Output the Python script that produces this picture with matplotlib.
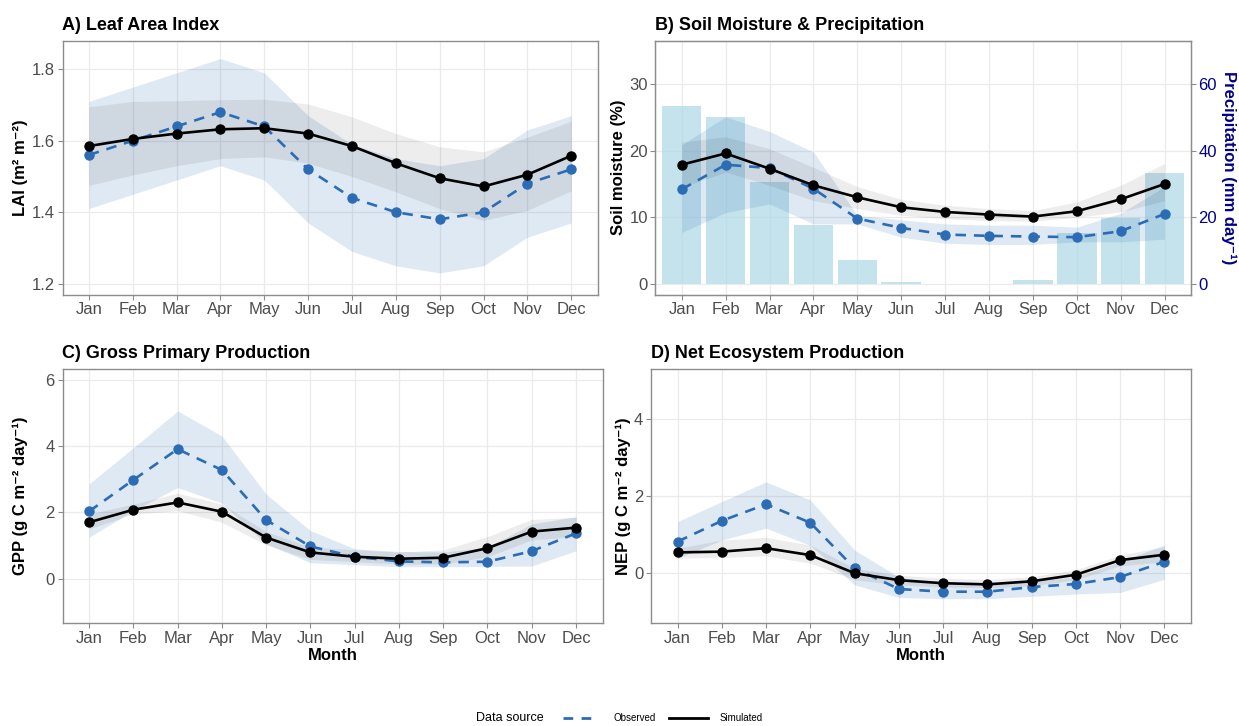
import matplotlib.pyplot as plt
from matplotlib.lines import Line2D
from matplotlib.transforms import blended_transform_factory

plt.rcParams['font.family'] = ['Liberation Sans', 'DejaVu Sans']

months = ['Jan', 'Feb', 'Mar', 'Apr', 'May', 'Jun', 'Jul', 'Aug', 'Sep', 'Oct', 'Nov', 'Dec']
x = list(range(1, 13))

# A) leaf area index
lai_obs = [1.56, 1.60, 1.64, 1.68, 1.64, 1.52, 1.44, 1.40, 1.38, 1.40, 1.48, 1.52]
lai_obs_lo = [1.41, 1.45, 1.49, 1.53, 1.49, 1.37, 1.29, 1.25, 1.23, 1.25, 1.33, 1.37]
lai_obs_hi = [1.71, 1.75, 1.79, 1.83, 1.79, 1.67, 1.59, 1.55, 1.53, 1.55, 1.63, 1.67]
lai_sim = [1.585, 1.605, 1.62, 1.632, 1.635, 1.62, 1.585, 1.537, 1.495, 1.472, 1.505, 1.558]
lai_sim_lo = [1.475, 1.504, 1.53, 1.55, 1.555, 1.537, 1.50, 1.457, 1.41, 1.377, 1.405, 1.46]
lai_sim_hi = [1.695, 1.71, 1.712, 1.715, 1.716, 1.703, 1.667, 1.62, 1.583, 1.569, 1.61, 1.655]

# B) soil moisture (%) and precipitation (mm/day)
sm_obs = [14.2, 17.9, 17.4, 14.3, 9.8, 8.4, 7.4, 7.2, 7.1, 7.0, 7.9, 10.5]
sm_obs_lo = [7.7, 10.7, 12.0, 9.0, 9.0, 7.0, 6.1, 5.9, 5.9, 6.3, 6.3, 6.7]
sm_obs_hi = [20.9, 25.1, 22.9, 19.8, 10.3, 9.6, 9.0, 8.8, 8.8, 8.5, 10.6, 14.6]
sm_sim = [17.9, 19.6, 17.3, 14.8, 13.0, 11.5, 10.8, 10.4, 10.1, 10.9, 12.7, 15.0]
sm_sim_lo = [14.5, 16.8, 14.8, 12.5, 11.3, 10.3, 9.8, 9.5, 9.4, 10.0, 10.8, 12.5]
sm_sim_hi = [21.3, 22.1, 20.3, 17.5, 14.6, 12.7, 11.8, 11.3, 11.0, 12.3, 14.8, 18.1]
precip = [53.4, 50.2, 30.7, 17.8, 7.2, 0.5, 0.0, 0.0, 1.2, 15.4, 19.8, 33.2]

# C) gross primary production
gpp_obs = [2.03, 2.98, 3.91, 3.28, 1.77, 0.97, 0.66, 0.52, 0.49, 0.51, 0.83, 1.37]
gpp_obs_lo = [1.25, 2.05, 2.75, 2.28, 1.05, 0.48, 0.42, 0.36, 0.36, 0.37, 0.38, 0.84]
gpp_obs_hi = [2.86, 3.95, 5.06, 4.31, 2.55, 1.45, 0.90, 0.82, 0.80, 0.95, 1.65, 1.87]
gpp_sim = [1.70, 2.08, 2.30, 2.02, 1.24, 0.79, 0.66, 0.60, 0.63, 0.92, 1.42, 1.54]
gpp_sim_lo = [1.50, 1.95, 2.05, 1.70, 1.02, 0.58, 0.51, 0.44, 0.44, 0.66, 1.17, 1.27]
gpp_sim_hi = [1.95, 2.25, 2.58, 2.25, 1.42, 0.95, 0.87, 0.80, 0.87, 1.27, 1.79, 1.85]

# D) net ecosystem production
nep_obs = [0.82, 1.36, 1.79, 1.31, 0.13, -0.41, -0.48, -0.48, -0.36, -0.28, -0.10, 0.30]
nep_obs_lo = [0.39, 0.86, 1.17, 0.72, -0.30, -0.63, -0.66, -0.66, -0.60, -0.54, -0.50, -0.16]
nep_obs_hi = [1.34, 1.86, 2.37, 1.90, 0.60, -0.10, -0.28, -0.28, -0.20, -0.10, 0.30, 0.73]
nep_sim = [0.54, 0.56, 0.65, 0.47, 0.00, -0.18, -0.26, -0.29, -0.21, -0.04, 0.34, 0.48]
nep_sim_lo = [0.39, 0.41, 0.45, 0.26, -0.17, -0.30, -0.36, -0.38, -0.33, -0.17, 0.19, 0.30]
nep_sim_hi = [0.65, 0.86, 0.93, 0.73, 0.13, -0.05, -0.13, -0.16, -0.09, 0.09, 0.47, 0.69]

OBS_COL = '#2B6CB5'
SIM_COL = 'black'
BORDER = '#8C8C8C'
GRID = '#EBEBEB'
TICK_COL = '#4D4D4D'
PREC_COL = '#00008B'

W, H = 1239, 726
fig = plt.figure(figsize=(W / 100, H / 100), dpi=100)


def px_axes(left, top, right, bottom):
    return fig.add_axes([left / W, 1 - bottom / H, (right - left) / W, (bottom - top) / H])


def place_ylabel(ax, axis, xc):
    # centre the y label on a fixed pixel column so the panels line up
    axis.set_label_coords(xc / W, 0.5, transform=blended_transform_factory(fig.transFigure, ax.transAxes))
    axis.label.set_va('center')
    axis.label.set_ha('center')


def style(ax, ylim, yticks, ylabel, title, label_x, xlabel=None, grid=True):
    ax.set_xlim(0.4, 12.6)
    ax.set_ylim(*ylim)
    ax.set_xticks(x)
    ax.set_xticklabels(months)
    ax.set_yticks(yticks)
    ax.tick_params(colors=BORDER, labelcolor=TICK_COL, labelsize=12, length=3.5, width=0.8, pad=2)
    for s in ax.spines.values():
        s.set_color(BORDER)
        s.set_linewidth(1.0)
    if grid:
        ax.grid(True, color=GRID, lw=0.9)
        ax.set_axisbelow(True)
    ax.set_ylabel(ylabel, fontsize=12, fontweight='bold')
    place_ylabel(ax, ax.yaxis, label_x)
    if xlabel:
        ax.set_xlabel(xlabel, fontsize=12, fontweight='bold')
        ax.xaxis.set_label_coords(0.5, 1 - 655 / H,
                                  transform=blended_transform_factory(ax.transAxes, fig.transFigure))
        ax.xaxis.label.set_va('center')
    ax.set_title(title, loc='left', fontsize=13, fontweight='bold', pad=8)


def draw_series(ax, obs, obs_lo, obs_hi, sim, sim_lo, sim_hi):
    ax.fill_between(x, obs_lo, obs_hi, color=OBS_COL, alpha=0.15, lw=0, zorder=2)
    ax.fill_between(x, sim_lo, sim_hi, color='black', alpha=0.07, lw=0, zorder=2)
    ax.plot(x, obs, color=OBS_COL, lw=1.9, dashes=(4, 3), marker='o', ms=6.5, zorder=3)
    ax.plot(x, sim, color=SIM_COL, lw=1.9, marker='o', ms=6.5, zorder=4)


# A
ax_a = px_axes(62.5, 40.7, 597.6, 294.7)
draw_series(ax_a, lai_obs, lai_obs_lo, lai_obs_hi, lai_sim, lai_sim_lo, lai_sim_hi)
style(ax_a, (1.169, 1.88), [1.2, 1.4, 1.6, 1.8], 'LAI (m² m⁻²)', 'A) Leaf Area Index', 20.5)
ax_a.set_yticklabels(['1.2', '1.4', '1.6', '1.8'])

# B: precipitation bars sit on a twin axis behind the soil moisture axis
ax_b = px_axes(655.4, 40.7, 1190.9, 294.7)
ax_p = ax_b.twinx()
ax_p.set_zorder(0)
ax_b.set_zorder(1)
ax_b.patch.set_visible(False)
ax_p.bar(x, precip, width=0.9, color='lightblue', alpha=0.7, zorder=2)
ax_p.set_ylim(-3.3, 73.1)
ax_p.set_yticks([0, 20, 40, 60])
ax_p.xaxis.set_visible(True)
ax_p.tick_params(axis='x', bottom=False, top=False, labelbottom=False, labeltop=False)
ax_p.grid(True, color=GRID, lw=0.9)
ax_p.set_axisbelow(True)
ax_p.tick_params(axis='y', colors=BORDER, labelcolor=PREC_COL, labelsize=12, length=3.5, width=0.8, pad=2)
for s in ax_p.spines.values():
    s.set_color(BORDER)
ax_p.set_ylabel('Precipitation (mm day⁻¹)', fontsize=12, fontweight='bold', color=PREC_COL, rotation=270)
place_ylabel(ax_p, ax_p.yaxis, 1229)
draw_series(ax_b, sm_obs, sm_obs_lo, sm_obs_hi, sm_sim, sm_sim_lo, sm_sim_hi)
style(ax_b, (-1.65, 36.55), [0, 10, 20, 30], 'Soil moisture (%)', 'B) Soil Moisture & Precipitation',
      618, grid=False)

# C
ax_c = px_axes(62.5, 369, 602.6, 623.3)
draw_series(ax_c, gpp_obs, gpp_obs_lo, gpp_obs_hi, gpp_sim, gpp_sim_lo, gpp_sim_hi)
style(ax_c, (-1.35, 6.33), [0, 2, 4, 6], 'GPP (g C m⁻² day⁻¹)', 'C) Gross Primary Production', 20,
      xlabel='Month')

# D
ax_d = px_axes(651, 369, 1190.9, 623.3)
draw_series(ax_d, nep_obs, nep_obs_lo, nep_obs_hi, nep_sim, nep_sim_lo, nep_sim_hi)
style(ax_d, (-1.30, 5.30), [0, 2, 4], 'NEP (g C m⁻² day⁻¹)', 'D) Net Ecosystem Production', 623,
      xlabel='Month')

# legend along the bottom
ly = 1 - 718 / H
fig.text(476 / W, ly, 'Data source', fontsize=9, va='center', ha='left')
fig.add_artist(Line2D([563 / W, 594 / W], [ly, ly], transform=fig.transFigure,
                      color=OBS_COL, lw=2, dashes=(3.5, 3)))
fig.text(613 / W, ly, 'Observed', fontsize=7, va='center', ha='left')
fig.add_artist(Line2D([669 / W, 708 / W], [ly, ly], transform=fig.transFigure, color='black', lw=2))
fig.text(720 / W, ly, 'Simulated', fontsize=7, va='center', ha='left')

fig.savefig('out.png', dpi=100, facecolor='white')
